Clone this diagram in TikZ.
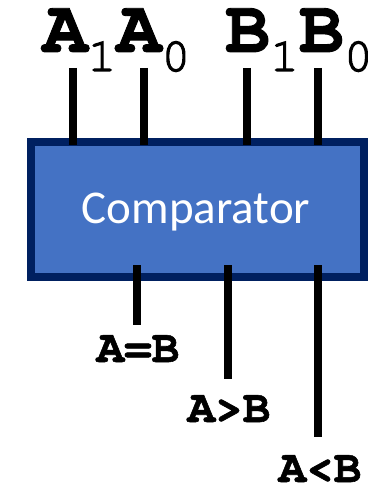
\documentclass[tikz,border=0pt]{standalone}
\usepackage{fontspec}
\setmainfont{Carlito}
\newfontfamily\cour{TeX Gyre Cursor}[BoldFeatures={FakeBold=1.2}]
\newfontfamily\subcour{TeX Gyre Cursor}[FakeBold=2.5]
\definecolor{boxfill}{RGB}{68,114,196}
\definecolor{boxedge}{RGB}{0,32,96}
\newcommand\subdig[1]{\raisebox{-19pt}{\subcour\mdseries\fontsize{48}{50}\selectfont #1}}
\begin{document}
\begin{tikzpicture}[x=1pt,y=-1pt,
  wire/.style={line width=8pt,black},
  compbox/.style={draw=boxedge,fill=boxfill,line width=8pt,rectangle,
    minimum width=333pt,minimum height=135pt,inner sep=0pt,outer sep=0pt},
  toplbl/.style={inner sep=0pt,anchor=base,text height=42pt,text depth=22pt,
    font=\cour\bfseries\fontsize{75}{80}\selectfont},
  outlbl/.style={inner sep=0pt,anchor=base,font=\cour\bfseries\fontsize{46}{50}\selectfont},
  boxtext/.style={inner sep=0pt,anchor=base,text=white,font=\fontsize{47}{50}\selectfont}]
\useasboundingbox (0,0) rectangle (373,487);
% box
\node[compbox] (box) at (197.5,209.5) {};
\node[boxtext] (title) at (196,223) {Comparator};
% input labels
\node[toplbl] (alabel) at (116.5,52) {A\subdig{1}A\subdig{0}};
\node[toplbl] (blabel) at (299,52) {B\subdig{1}B\subdig{0}};
% input wire ends
\coordinate (a1) at (73,68);
\coordinate (a0) at (144,68);
\coordinate (b1) at (247,68);
\coordinate (b0) at (318,68);
\foreach \c in {a1,a0,b1,b0}
  \draw[wire,shorten >=-3pt] (\c) -- (\c |- box.north);
% output wire ends
\coordinate (eq) at (137,325);
\coordinate (gt) at (228,379);
\coordinate (lt) at (318,437);
\foreach \c in {eq,gt,lt}
  \draw[wire,shorten <=-12pt] (\c |- box.south) -- (\c);
% output labels
\node[outlbl] (eqlbl) at (138,362) {A=B};
\node[outlbl] (gtlbl) at (229,422) {A>B};
\node[outlbl] (ltlbl) at (320,482) {A<B};
\end{tikzpicture}
\end{document}
